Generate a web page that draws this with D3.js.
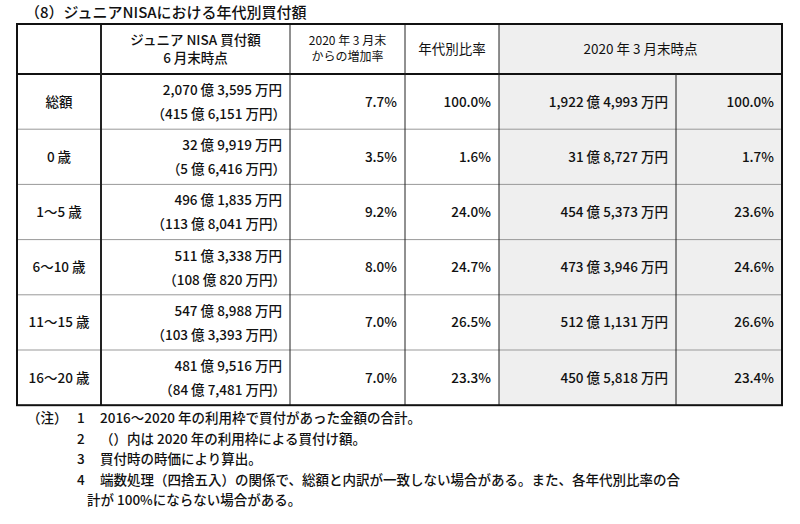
<!DOCTYPE html>
<html>
<head>
<script src="https://d3js.org/d3.v7.min.js"></script>
<style>
  body { margin: 0; background: #fff; }
  text { font-family: "Noto Sans CJK JP", sans-serif; fill: #111; }
</style>
</head>
<body>
<svg id="tbl" width="800" height="524"></svg>
<script>
// data
const title = "（8）ジュニアNISAにおける年代別買付額";
const ages = ["総額", "0 歳", "1〜5 歳", "6〜10 歳", "11〜15 歳", "16〜20 歳"];
const juneAmount = ["2,070 億 3,595 万円", "32 億 9,919 万円", "496 億 1,835 万円", "511 億 3,338 万円", "547 億 8,988 万円", "481 億 9,516 万円"];
const june2020Part = ["（415 億 6,151 万円）", "（5 億 6,416 万円）", "（113 億 8,041 万円）", "（108 億 820 万円）", "（103 億 3,393 万円）", "（84 億 7,481 万円）"];
const growth = ["7.7%", "3.5%", "9.2%", "8.0%", "7.0%", "7.0%"];
const share = ["100.0%", "1.6%", "24.0%", "24.7%", "26.5%", "23.3%"];
const marchAmount = ["1,922 億 4,993 万円", "31 億 8,727 万円", "454 億 5,373 万円", "473 億 3,946 万円", "512 億 1,131 万円", "450 億 5,818 万円"];
const marchShare = ["100.0%", "1.7%", "23.6%", "24.6%", "26.6%", "23.4%"];
const notes = [
  ["（注）", "1", "2016〜2020 年の利用枠で買付があった金額の合計。"],
  ["", "2", "（）内は 2020 年の利用枠による買付け額。"],
  ["", "3", "買付時の時価により算出。"],
  ["", "4", "端数処理（四捨五入）の関係で、総額と内訳が一致しない場合がある。また、各年代別比率の合"],
  ["", "", "計が 100%にならない場合がある。"]
];

const svg = d3.select("#tbl");
const colX = [17, 101, 290, 405, 499, 676, 782];
const tTop = 24, headH = 50, rowH = 55.2;
const y = d3.scaleBand().domain(d3.range(ages.length)).range([tTop + headH, tTop + headH + rowH * ages.length]);
const tBottom = tTop + headH + rowH * ages.length;
const pad = 8;

svg.append("text").attr("x", 25).attr("y", 18).attr("font-size", 15).attr("font-weight", 500).text(title);

// gray area
svg.append("rect").attr("x", colX[4]).attr("y", tTop).attr("width", colX[6] - colX[4]).attr("height", tBottom - tTop).attr("fill", "#efefef");

// row lines
ages.forEach((a, i) => {
  if (i > 0) svg.append("line").attr("x1", colX[0]).attr("x2", colX[6]).attr("y1", y(i)).attr("y2", y(i)).attr("stroke", "#999").attr("stroke-width", 1);
});
svg.append("line").attr("x1", colX[0]).attr("x2", colX[6]).attr("y1", tTop + headH).attr("y2", tTop + headH).attr("stroke", "#111").attr("stroke-width", 2);
// column lines
colX.slice(1, 6).forEach((x, i) => {
  const thick = i === 0 ? 2 : 1;
  svg.append("line").attr("x1", x).attr("x2", x).attr("y1", i === 4 ? tTop + headH : tTop).attr("y2", tBottom).attr("stroke", "#222").attr("stroke-width", thick);
});
svg.append("rect").attr("x", colX[0]).attr("y", tTop).attr("width", colX[6] - colX[0]).attr("height", tBottom - tTop).attr("fill", "none").attr("stroke", "#111").attr("stroke-width", 2);

// header
const hdr = (x, lines, size, weight) => {
  const t = svg.append("text").attr("text-anchor", "middle").attr("font-size", size).attr("font-weight", weight);
  const n = lines.length, lh = size + 4;
  lines.forEach((s, k) => t.append("tspan").attr("x", x).attr("y", tTop + headH / 2 + (k - (n - 1) / 2) * lh + size * 0.36).text(s));
};
hdr((colX[1] + colX[2]) / 2, ["ジュニア NISA 買付額", "6 月末時点"], 13.5, 500);
hdr((colX[2] + colX[3]) / 2, ["2020 年 3 月末", "からの増加率"], 12, 400);
hdr((colX[3] + colX[4]) / 2, ["年代別比率"], 13.5, 400);
hdr((colX[4] + colX[6]) / 2, ["2020 年 3 月末時点"], 13.5, 400);

// body
ages.forEach((a, i) => {
  const yc = y(i) + rowH / 2;
  const g = svg.append("g").attr("font-size", 13.5).attr("font-weight", 500);
  g.append("text").attr("x", (colX[0] + colX[1]) / 2).attr("y", yc + 5).attr("text-anchor", "middle").text(a);
  g.append("text").attr("x", colX[2] - pad).attr("y", y(i) + 21).attr("text-anchor", "end").text(juneAmount[i]);
  g.append("text").attr("x", colX[2] - pad + 4).attr("y", y(i) + 45).attr("text-anchor", "end").text(june2020Part[i]);
  g.append("text").attr("x", colX[3] - pad).attr("y", yc + 5).attr("text-anchor", "end").text(growth[i]);
  g.append("text").attr("x", colX[4] - pad).attr("y", yc + 5).attr("text-anchor", "end").text(share[i]);
  g.append("text").attr("x", colX[5] - pad).attr("y", yc + 5).attr("text-anchor", "end").text(marchAmount[i]);
  g.append("text").attr("x", colX[6] - pad).attr("y", yc + 5).attr("text-anchor", "end").text(marchShare[i]);
});

// notes
notes.forEach((n, i) => {
  const ny = tBottom + 18 + i * 20.5;
  const g = svg.append("g").attr("font-size", 13.5).attr("font-weight", 500);
  if (n[0]) g.append("text").attr("x", 27).attr("y", ny).text(n[0]);
  if (n[1]) g.append("text").attr("x", 77).attr("y", ny).text(n[1]);
  g.append("text").attr("x", n[1] ? 100 : 87).attr("y", ny).text(n[2]);
});
</script>
</body>
</html>
